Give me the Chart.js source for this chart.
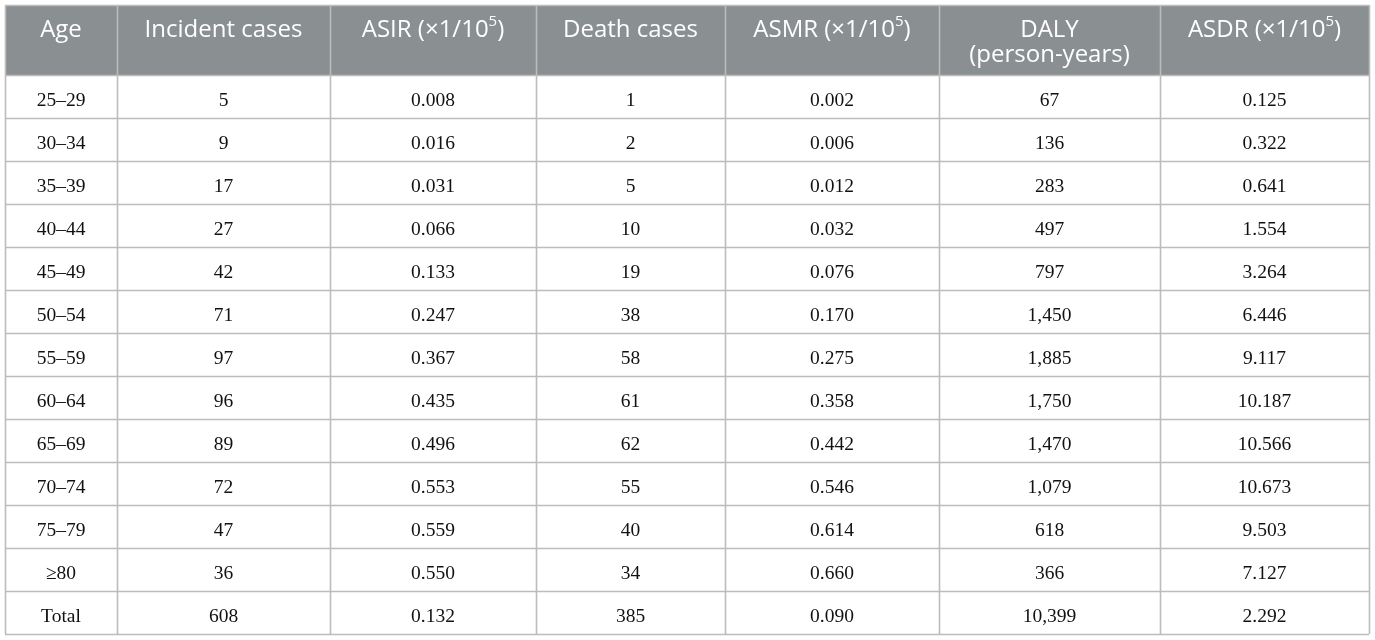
<!DOCTYPE html>
<html>
<head>
<meta charset="utf-8">
<script src="https://cdn.jsdelivr.net/npm/chart.js@4.4.1/dist/chart.umd.min.js"></script>
<style>
  html, body { margin: 0; padding: 0; background: #fff; }
  #wrap { width: 1375px; height: 640px; }
</style>
</head>
<body>
<div id="wrap"><canvas id="tabla" width="1375" height="640"></canvas></div>
<script>
// column headers (^ marks a superscript, | a line break)
const headers = ['Age', 'Incident cases', 'ASIR (\u00d71/10^5)', 'Death cases',
  'ASMR (\u00d71/10^5)', 'DALY|(person-years)', 'ASDR (\u00d71/10^5)'];

const ageGroups = ['25\u201329', '30\u201334', '35\u201339', '40\u201344', '45\u201349', '50\u201354',
  '55\u201359', '60\u201364', '65\u201369', '70\u201374', '75\u201379', '\u226580', 'Total'];
const incidentCases = ['5', '9', '17', '27', '42', '71', '97', '96', '89', '72', '47', '36', '608'];
const asir = ['0.008', '0.016', '0.031', '0.066', '0.133', '0.247', '0.367', '0.435', '0.496',
  '0.553', '0.559', '0.550', '0.132'];
const deathCases = ['1', '2', '5', '10', '19', '38', '58', '61', '62', '55', '40', '34', '385'];
const asmr = ['0.002', '0.006', '0.012', '0.032', '0.076', '0.170', '0.275', '0.358', '0.442',
  '0.546', '0.614', '0.660', '0.090'];
const daly = ['67', '136', '283', '497', '797', '1,450', '1,885', '1,750', '1,470', '1,079',
  '618', '366', '10,399'];
const asdr = ['0.125', '0.322', '0.641', '1.554', '3.264', '6.446', '9.117', '10.187', '10.566',
  '10.673', '9.503', '7.127', '2.292'];

// layout (scale units = pixels of the table)
const colWidths = [112, 213, 206, 189, 214, 221, 209];
const headH = 70;
const rowH = 43;

const columnsData = [ageGroups, incidentCases, asir, deathCases, asmr, daly, asdr];
const colEdges = [0];
colWidths.forEach(w => colEdges.push(colEdges[colEdges.length - 1] + w));
const tableW = colEdges[colEdges.length - 1];
const tableH = headH + rowH * ageGroups.length;

function drawRich(ctx, text, cx, cy, size, family) {
  // split on ^ for superscript
  const parts = text.split('^');
  const base = size + 'px ' + family;
  const sup = Math.round(size * 0.62) + 'px ' + family;
  let segs = [];
  parts.forEach((p, i) => {
    if (i == 0) { segs.push({ t: p, f: base, dy: 0 }); return; }
    segs.push({ t: p.charAt(0), f: sup, dy: -size * 0.36 });
    if (p.length > 1) segs.push({ t: p.slice(1), f: base, dy: 0 });
  });
  let total = 0;
  segs.forEach(s => { ctx.font = s.f; s.w = ctx.measureText(s.t).width; total += s.w; });
  let x = cx - total / 2;
  ctx.textAlign = 'left';
  segs.forEach(s => {
    ctx.font = s.f;
    ctx.fillText(s.t, x, cy + s.dy);
    x += s.w;
  });
}

const tablePlugin = {
  id: 'tablePlugin',
  afterDraw(chart) {
    const ctx = chart.ctx;
    const xs = chart.scales.x;
    const ys = chart.scales.y;
    const X = v => xs.getPixelForValue(v);
    const Y = v => ys.getPixelForValue(v);
    ctx.save();

    // header band
    ctx.fillStyle = '#8a8f92';
    ctx.fillRect(X(0), Y(0), X(tableW) - X(0), Y(headH) - Y(0));

    // grid lines
    ctx.strokeStyle = '#bcbcbc';
    ctx.lineWidth = 1.6;
    ctx.beginPath();
    colEdges.forEach(e => {
      ctx.moveTo(Math.round(X(e)) + 0.5, Y(0));
      ctx.lineTo(Math.round(X(e)) + 0.5, Y(tableH));
    });
    ctx.moveTo(X(0), Math.round(Y(0)) + 0.5);
    ctx.lineTo(X(tableW), Math.round(Y(0)) + 0.5);
    for (let r = 0; r <= ageGroups.length; r++) {
      const yy = Math.round(Y(headH + r * rowH)) + 0.5;
      ctx.moveTo(X(0), yy);
      ctx.lineTo(X(tableW), yy);
    }
    ctx.stroke();

    // header text
    ctx.fillStyle = '#ffffff';
    ctx.textBaseline = 'middle';
    headers.forEach((h, c) => {
      const cx = (X(colEdges[c]) + X(colEdges[c + 1])) / 2;
      const lines = h.split('|');
      lines.forEach((ln, i) => {
        drawRich(ctx, ln, cx, Y(25 + i * 25), 24, '"Open Sans", sans-serif');
      });
    });

    // body text
    ctx.fillStyle = '#111111';
    ctx.font = '19.5px "Liberation Serif", serif';
    ctx.textAlign = 'center';
    columnsData.forEach((col, c) => {
      const cx = (X(colEdges[c]) + X(colEdges[c + 1])) / 2;
      col.forEach((v, r) => {
        ctx.fillText(v, cx, Y(headH + r * rowH + rowH / 2 + 4));
      });
    });
    ctx.restore();
  }
};

new Chart(document.getElementById('tabla'), {
  type: 'scatter',
  data: { datasets: [] },
  options: {
    responsive: false,
    animation: false,
    devicePixelRatio: 1,
    layout: { padding: { left: 5, top: 5, right: 6, bottom: 6 } },
    plugins: { legend: { display: false }, tooltip: { enabled: false } },
    scales: {
      x: { type: 'linear', min: 0, max: tableW, display: false },
      y: { type: 'linear', min: 0, max: tableH, reverse: true, display: false }
    }
  },
  plugins: [tablePlugin]
});
</script>
</body>
</html>
